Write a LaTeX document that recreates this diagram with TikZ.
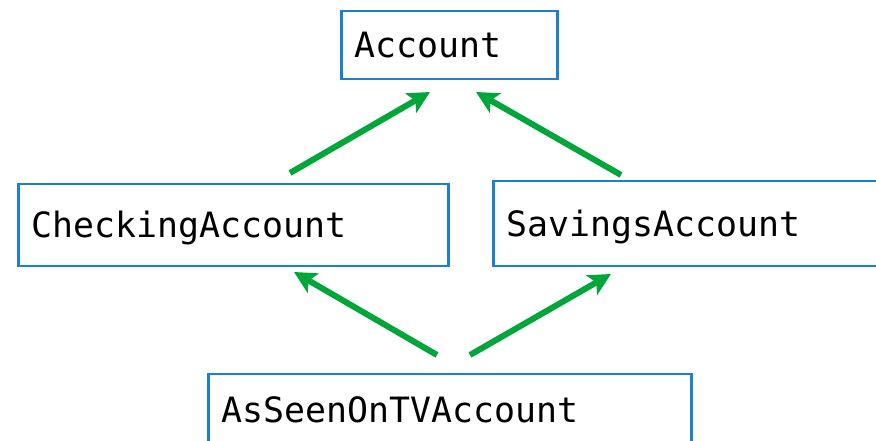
\documentclass[tikz,border=0pt]{standalone}
\usepackage{fontspec}
\setmonofont{DejaVu Sans Mono}
\usetikzlibrary{arrows.meta}
\definecolor{boxblue}{RGB}{28,128,208}
\definecolor{arrgreen}{RGB}{0,166,57}
\begin{document}
\begin{tikzpicture}[x=1bp,y=-1bp,
  cls/.style={draw=boxblue, line width=2.5bp, anchor=north west, inner xsep=12bp, inner ysep=0pt,
    font=\ttfamily\fontsize{35}{35}\selectfont, text height=25.5bp, text depth=0pt, align=left},
  inh/.style={draw=arrgreen, line width=6bp, -{Stealth[length=22bp,width=22bp,inset=5bp]}}]
\useasboundingbox (0,0) rectangle (876,441);
\clip (0,0) rectangle (876,441);
\node[cls, minimum width=216bp, minimum height=68bp, text width=190bp] (acct) at (340,10) {Account};
\node[cls, minimum width=430bp, minimum height=82bp, text width=404bp] (check) at (17,183) {CheckingAccount};
\node[cls, minimum width=420bp, minimum height=85bp, text width=394bp] (sav) at (492,180) {SavingsAccount};
\node[cls, minimum width=483bp, minimum height=70bp, text width=457bp] (tv) at (207,373) {AsSeenOnTVAccount};
\coordinate (c1s) at (290,173);
\coordinate (c1e) at (430,92);
\coordinate (c2s) at (621,175);
\coordinate (c2e) at (476,92);
\coordinate (c3s) at (437,355);
\coordinate (c3e) at (294,272);
\coordinate (c4s) at (470,355);
\coordinate (c4e) at (611,274);
\draw[inh] (c1s) -- (c1e);
\draw[inh] (c2s) -- (c2e);
\draw[inh] (c3s) -- (c3e);
\draw[inh] (c4s) -- (c4e);
\end{tikzpicture}
\end{document}
